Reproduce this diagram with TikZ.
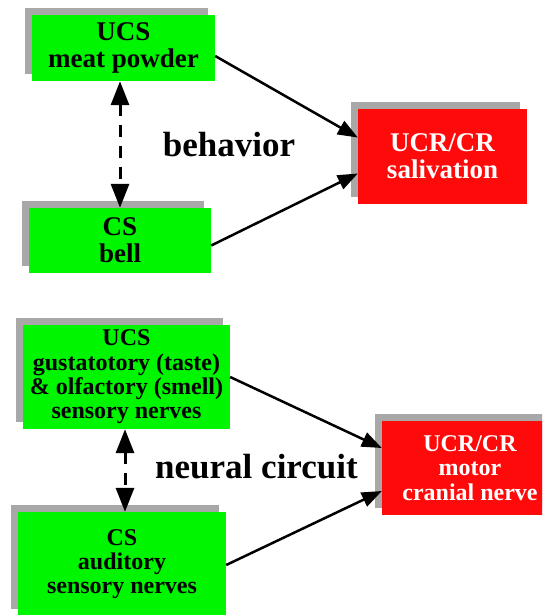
\documentclass[tikz,border=0pt]{standalone}
\usepackage{fontspec}
\setmainfont{Liberation Serif}[BoldFont={Liberation Serif Bold}]
\newfontfamily\boldserif{Liberation Serif Bold}
\usetikzlibrary{arrows.meta,shadows}
\definecolor{boxgreen}{RGB}{0,245,0}
\definecolor{boxred}{RGB}{255,10,10}
\definecolor{shadowgray}{RGB}{168,168,168}
\tikzset{
  box/.style={draw=none, inner sep=0pt, align=center,
    drop shadow={shadow xshift=-7pt, shadow yshift=7pt, fill=shadowgray, opacity=1}},
  gbox/.style={box, fill=boxgreen, text=black},
  rbox/.style={box, fill=boxred, text=white},
  bigtxt/.style={font=\boldserif\fontsize{27}{27}\selectfont},
  smalltxt/.style={font=\boldserif\fontsize{24}{24.3}\selectfont},
  lbl/.style={font=\boldserif\fontsize{35}{35}\selectfont, inner sep=0pt},
  conn/.style={line width=2.5pt, -{Triangle[length=20pt,width=15pt]}},
  dasharrow/.style={line width=3pt, dash pattern=on 12pt off 9pt,
    {Triangle[length=24pt,width=18pt]}-{Triangle[length=24pt,width=18pt]}}
}
\begin{document}
\begin{tikzpicture}[x=1pt,y=-1pt]
\useasboundingbox (0,0) rectangle (542,615);
\clip (0,0) rectangle (542,615);
% top half
\node[gbox, bigtxt, minimum width=183pt, minimum height=66pt] (ucs1) at (123.5,48) {UCS\\meat powder};
\node[gbox, bigtxt, minimum width=182pt, minimum height=65pt] (cs1) at (120,240.5) {CS\\bell};
\node[rbox, bigtxt, minimum width=169pt, minimum height=95pt] (ucr1) at (442.5,156.5) {UCR/CR\\salivation};
\node[lbl] (beh) at (229,145) {behavior};
\draw[conn] ([yshift=-8pt]ucs1.east) -- ([yshift=19pt]ucr1.west);
\draw[conn] ([yshift=-5pt]cs1.east) -- ([yshift=-17pt]ucr1.west);
\draw[dasharrow] ([xshift=-3.5pt]ucs1.south) -- ([xshift=-3.5pt]ucs1.south |- cs1.north);
% bottom half
\node[gbox, smalltxt, minimum width=207pt, minimum height=104pt] (ucs2) at (126.5,377) {UCS\\gustatotory (taste)\\\&{} olfactory (smell)\\sensory nerves};
\node[gbox, smalltxt, minimum width=208pt, minimum height=104pt] (cs2) at (122,564) {CS\\auditory\\sensory nerves};
\node[rbox, smalltxt, minimum width=176pt, minimum height=94pt] (ucr2) at (470,468) {UCR/CR\\motor\\cranial nerve};
\node[lbl] (neu) at (256.5,467) {neural circuit};
\draw[conn] (ucs2.east) -- ([yshift=20pt]ucr2.west);
\draw[conn] ([yshift=-1pt]cs2.east) -- ([yshift=-23pt]ucr2.west);
\draw[dasharrow] ([xshift=-1.5pt]ucs2.south) -- ([xshift=-1.5pt]ucs2.south |- cs2.north);
\end{tikzpicture}
\end{document}
